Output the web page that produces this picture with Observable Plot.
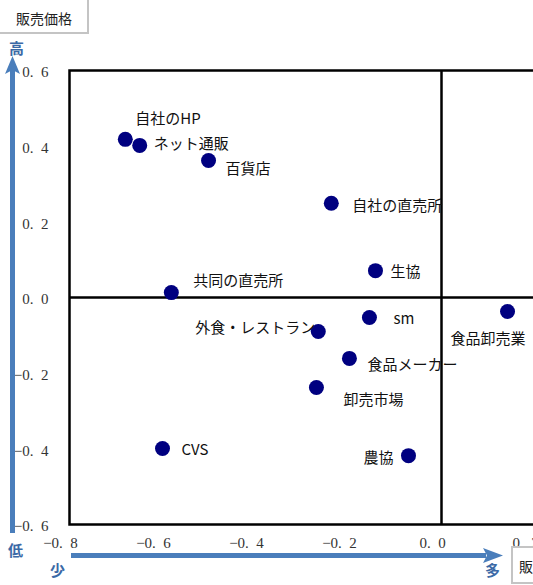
<!DOCTYPE html>
<html>
<head>
<meta charset="utf-8">
<script src="https://cdn.jsdelivr.net/npm/d3@7"></script>
<script src="https://cdn.jsdelivr.net/npm/@observablehq/plot@0.6"></script>
<style>
  html, body { margin: 0; padding: 0; background: #fff; overflow: hidden; }
  #wrap { position: relative; width: 533px; height: 585px; overflow: hidden; background: #fff; }
  #chart { position: absolute; left: 0; top: 0; width: 640px; }
  #chart svg { max-width: none !important; }
  #deco { position: absolute; left: 0; top: 0; pointer-events: none; }
  .box { position: absolute; background: #fff; border: 2px solid #c4c4c4; box-sizing: border-box;
         font-family: "Noto Sans CJK JP", sans-serif; font-size: 14px; color: #222; white-space: nowrap; }
</style>
</head>
<body>
<div id="wrap">
  <div id="chart"></div>
  <svg id="deco" width="533" height="585"></svg>
  <div class="box" style="left:-4px; top:-4px; width:93px; height:38px; line-height:38px; padding-left:18px; padding-top:1px;">販売価格</div>
  <div class="box" style="left:511px; top:546px; width:90px; height:38px; line-height:36px; padding-left:6px;">販売量</div>
</div>
<script>
// ---- data ----
const names = ["自社のHP","ネット通販","百貨店","自社の直売所","生協","共同の直売所","食品卸売業","sm","外食・レストラン","食品メーカー","卸売市場","CVS","農協"];
const xVals = [-0.680,-0.649,-0.501,-0.237,-0.142,-0.581,0.142,-0.155,-0.265,-0.198,-0.269,-0.600,-0.071];
const yVals = [0.418,0.402,0.362,0.249,0.071,0.013,-0.037,-0.053,-0.090,-0.161,-0.238,-0.399,-0.418];
const xTicks = [-0.8,-0.6,-0.4,-0.2,0.0,0.2,0.4];
const yTicks = [-0.6,-0.4,-0.2,0.0,0.2,0.4,0.6];

// label layout (pixel offsets from each point)
const labelLayout = [
  {dx:10, dy:-20, a:"start"},
  {dx:14, dy:-1, a:"start"},
  {dx:17, dy:9, a:"start"},
  {dx:21, dy:3, a:"start"},
  {dx:15, dy:2, a:"start"},
  {dx:22, dy:-11, a:"start"},
  {dx:-57, dy:28, a:"start"},
  {dx:24, dy:2, a:"start"},
  {dx:-3, dy:-3, a:"end"},
  {dx:18, dy:7, a:"start"},
  {dx:27, dy:13, a:"start"},
  {dx:19, dy:2, a:"start"},
  {dx:-15, dy:3, a:"end"}
];

const data = names.map((n,i) => ({name:n, x:xVals[i], y:yVals[i], ...labelLayout[i]}));
const fmt = d => d3.format(".1f")(d).replace("-", "\u2212").replace(".", ".\u2002");

const serif = "'Liberation Serif', 'DejaVu Serif', serif";
const sans = "'Noto Sans CJK JP', 'Noto Sans', sans-serif";

const textMarks = data.map(d => Plot.text([d], {
  x:"x", y:"y", text:"name", dx:d.dx, dy:d.dy, textAnchor:d.a,
  fontSize:15, fontFamily:sans, fill:"#111"
}));

const plot = Plot.plot({
  width: 640, height: 585,
  marginLeft: 69, marginRight: 13, marginTop: 70, marginBottom: 61,
  x: {domain:[-0.8,0.4], axis:null},
  y: {domain:[-0.6,0.6], axis:null},
  style: {background:"transparent", overflow:"visible", maxWidth:"none"},
  marks: [
    Plot.ruleX([0], {stroke:"black", strokeWidth:2.5}),
    Plot.ruleY([0], {stroke:"black", strokeWidth:2.5}),
    Plot.frame({stroke:"black", strokeWidth:2.5}),
    Plot.text(yTicks, {y:d=>d, text:fmt, frameAnchor:"left", textAnchor:"end", dx:-21, dy:2,
      fontSize:15, fontFamily:serif, fill:"#333"}),
    Plot.text(xTicks, {x:d=>d, text:fmt, frameAnchor:"bottom", dx:-9, dy:23,
      fontSize:15, fontFamily:serif, fill:"#333"}),
    Plot.dot(data, {x:"x", y:"y", r:7.5, fill:"#000080", stroke:"none"}),
    ...textMarks
  ]
});
document.getElementById("chart").appendChild(plot);

// ---- decorations: direction arrows ----
const deco = d3.select("#deco");
const blue = "#4a7ebb";
const labelBlue = "#3b69a6";
deco.append("rect").attr("x", 10).attr("y", 70).attr("width", 5).attr("height", 463).attr("fill", blue);
deco.append("path").attr("d", "M12.5,56 L20,74 L12.5,70 L5,74 Z").attr("fill", blue);
deco.append("rect").attr("x", 71).attr("y", 553).attr("width", 415).attr("height", 5).attr("fill", blue);
deco.append("path").attr("d", "M503,555.5 L483,548 L487,555.5 L483,563 Z").attr("fill", blue);
const lab = [["高",16.5,47],["低",15.5,549],["少",57.5,569],["多",492.5,569]];
lab.forEach(([t,x,y]) => deco.append("text").attr("x",x).attr("y",y).attr("text-anchor","middle")
  .attr("dominant-baseline","central").attr("font-family",sans).attr("font-weight","bold")
  .attr("font-size",15).attr("fill",labelBlue).text(t));
</script>
</body>
</html>
